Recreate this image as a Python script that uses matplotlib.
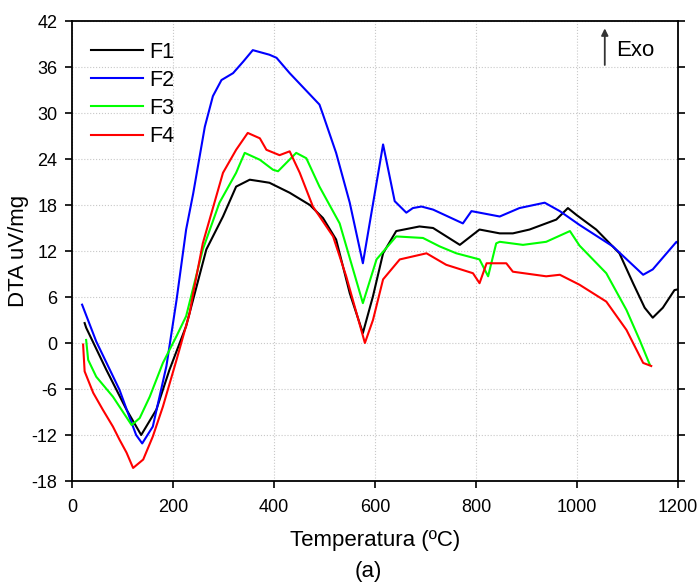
import matplotlib
matplotlib.use('Agg')
import matplotlib.pyplot as plt

plt.rcParams['font.family'] = ['Liberation Sans', 'DejaVu Sans']
plt.rcParams['axes.unicode_minus'] = False

# temperatura (C) and DTA (uV/mg)
t_f1 = [25, 28, 68, 108, 137, 167, 193, 226, 266, 299, 325, 352, 372, 391, 431, 471, 497,
        523, 550, 576, 596, 616, 642, 688, 715, 768, 807, 847, 873, 906, 959, 982, 999,
        1038, 1084, 1111, 1134, 1150, 1170, 1193, 1200]
v_f1 = [2.6, 2.0, -3.5, -8.7, -12.0, -8.7, -3.5, 2.2, 12.2, 16.5, 20.4, 21.3, 21.1, 20.9,
        19.6, 18.0, 16.3, 13.5, 6.5, 1.3, 6.1, 11.7, 14.6, 15.2, 15.0, 12.8, 14.8, 14.3,
        14.3, 14.8, 16.1, 17.6, 16.7, 14.8, 11.7, 7.8, 4.6, 3.3, 4.6, 6.9, 7.0]

t_f2 = [20, 48, 94, 114, 127, 139, 160, 187, 207, 226, 240, 263, 279, 296, 319, 339, 358,
        391, 405, 431, 490, 497, 523, 550, 576, 616, 639, 662, 675, 692, 715, 774, 791,
        847, 886, 936, 966, 1005, 1071, 1131, 1150, 1197, 1200]
v_f2 = [5.0, 0.2, -6.1, -9.7, -12.0, -13.1, -10.9, -3.0, 5.6, 14.8, 19.5, 28.2, 32.2, 34.3,
        35.2, 36.7, 38.2, 37.6, 37.2, 35.2, 31.1, 29.8, 24.8, 18.3, 10.4, 25.9, 18.5, 17.0,
        17.6, 17.8, 17.4, 15.6, 17.2, 16.5, 17.6, 18.3, 17.2, 15.4, 12.6, 8.9, 9.6, 13.2, 13.0]

t_f3 = [28, 32, 48, 81, 118, 134, 154, 180, 207, 226, 259, 292, 325, 342, 372, 398, 408,
        444, 464, 490, 530, 576, 603, 642, 695, 728, 761, 807, 824, 840, 847, 893, 939,
        986, 1005, 1058, 1098, 1124, 1144]
v_f3 = [0.4, -2.2, -4.4, -7.0, -10.7, -9.8, -7.0, -2.6, 0.9, 3.5, 12.2, 18.3, 22.2, 24.8,
        23.9, 22.6, 22.4, 24.8, 24.1, 20.4, 15.6, 5.2, 10.9, 13.9, 13.7, 12.6, 11.7, 10.9,
        8.7, 13.0, 13.2, 12.8, 13.2, 14.6, 12.7, 9.1, 4.3, 0.4, -2.8]

t_f4 = [22, 25, 42, 61, 81, 94, 108, 121, 141, 160, 180, 207, 233, 240, 259, 299, 325, 348,
        372, 385, 411, 431, 451, 477, 517, 543, 580, 596, 616, 649, 702, 741, 794, 807,
        821, 860, 873, 939, 966, 1005, 1058, 1098, 1131, 1147]
v_f4 = [-0.2, -3.7, -6.5, -8.7, -10.9, -12.6, -14.3, -16.3, -15.2, -12.2, -8.3, -2.2, 3.9,
        6.5, 13.0, 22.2, 25.2, 27.4, 26.7, 25.2, 24.5, 25.0, 22.2, 17.8, 13.9, 8.7, 0.0,
        3.0, 8.3, 10.9, 11.7, 10.2, 9.1, 7.8, 10.4, 10.4, 9.3, 8.7, 8.9, 7.6, 5.4, 1.7,
        -2.6, -3.0]

series = [('F1', t_f1, v_f1, 'black'), ('F2', t_f2, v_f2, '#0000ff'),
          ('F3', t_f3, v_f3, '#00ff00'), ('F4', t_f4, v_f4, '#ff0000')]

fig = plt.figure(figsize=(7, 5.84), dpi=100)
ax = fig.add_axes([72 / 700, 1 - 481 / 584, 606 / 700, 460 / 584])

for name, t, v, c in series:
    ax.plot(t, v, color=c, lw=1.5, label=name)

ax.set_xlim(0, 1200)
ax.set_ylim(-18, 42)
ax.set_xticks(range(0, 1201, 200))
ax.set_yticks(range(-18, 43, 6))
ax.grid(True, ls=':', color='#c8c8c8', lw=0.8)
ax.tick_params(direction='out', length=5, width=1.2, labelsize=13,
               right=True, top=False)
ax.tick_params(axis='x', pad=8)
ax.tick_params(axis='y', pad=5.5)
for s in ax.spines.values():
    s.set_linewidth(1.3)

ax.set_xlabel('Temperatura (ºC)', fontsize=16, labelpad=10)
ax.set_ylabel('DTA uV/mg', fontsize=16, labelpad=2)

ax.legend(loc='upper left', bbox_to_anchor=(0.0, 0.997), frameon=False, fontsize=15.5,
          handlelength=2.4, handletextpad=0.3, labelspacing=0.33)

ax.annotate('', xy=(1055, 41.4), xytext=(1055, 35.9),
            arrowprops=dict(arrowstyle='-|>', color='#333333', lw=1.3, mutation_scale=10))
ax.text(1078, 38.1, 'Exo', fontsize=16, va='center', ha='left')

fig.text(368 / 700, 1 - 571 / 584, '(a)', fontsize=16, ha='center', va='center')

fig.savefig('out.png', dpi=100)
